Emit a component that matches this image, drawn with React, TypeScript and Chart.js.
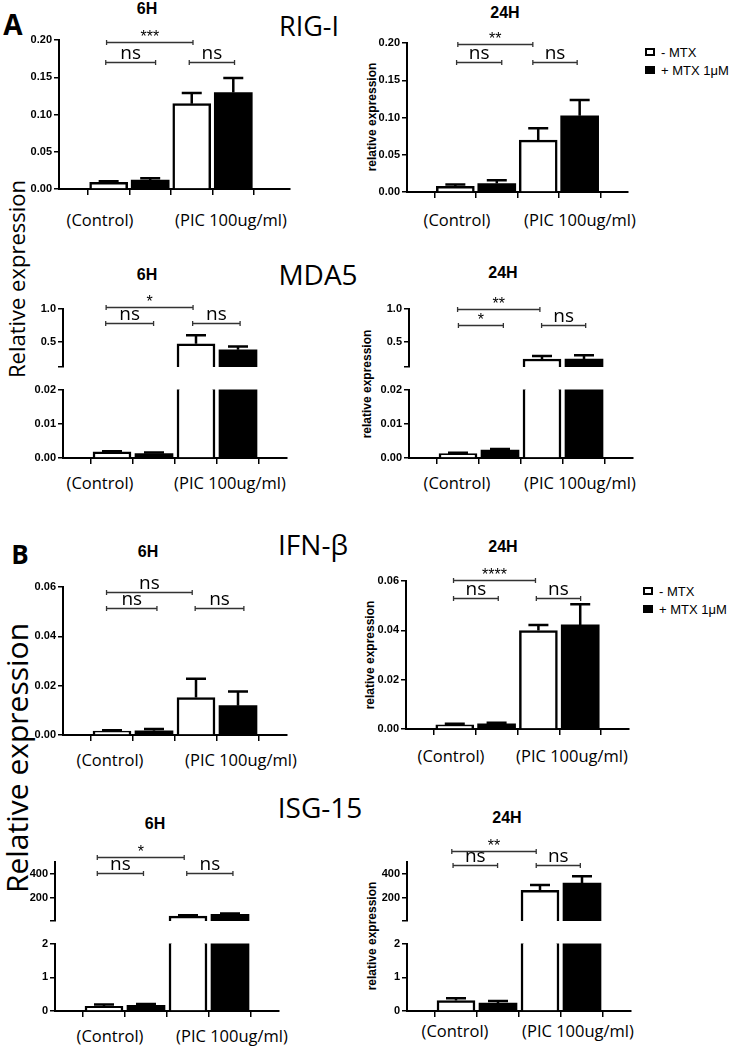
import React, { useEffect, useRef } from 'react';
import { Chart, registerables } from 'chart.js';

Chart.register(...registerables);

// ---------------- data ----------------
const GROUPS = ['(Control)', '(PIC 100ug/ml)'];
const SERIES = ['- MTX', '+ MTX 1μM'];
const BAR_POS = [0, 1, 2, 3]; // Control -MTX, Control +MTX, PIC -MTX, PIC +MTX

const RIGI_6H = [0.009, 0.012, 0.1145, 0.1295];
const RIGI_6H_ERR = [0.0015, 0.0025, 0.0145, 0.0195];
const RIGI_24H = [0.0077, 0.0113, 0.0697, 0.1024];
const RIGI_24H_ERR = [0.0025, 0.0045, 0.016, 0.021];
const MDA5_6H = [0.0018, 0.0013, 0.47, 0.38];
const MDA5_6H_ERR = [0.0002, 0.0003, 0.13, 0.05];
const MDA5_24H = [0.0013, 0.0023, 0.24, 0.24];
const MDA5_24H_ERR = [0.0002, 0.0003, 0.044, 0.057];
const IFNB_6H = [0.0016, 0.0017, 0.0152, 0.0119];
const IFNB_6H_ERR = [0.0003, 0.0007, 0.0076, 0.0057];
const IFNB_24H = [0.0017, 0.0021, 0.0399, 0.0422];
const IFNB_24H_ERR = [0.0004, 0.0004, 0.0023, 0.0084];
const ISG15_6H = [0.14, 0.17, 48, 62];
const ISG15_6H_ERR = [0.05, 0.04, 8, 8];
const ISG15_24H = [0.31, 0.235, 264, 324];
const ISG15_24H_ERR = [0.07, 0.06, 43, 57];

const RIGI_TICKS = [0, 0.05, 0.1, 0.15, 0.2];
const MDA5_LOW_TICKS = [0, 0.01, 0.02];
const MDA5_HIGH_TICKS = [0.5, 1.0];
const IFNB_TICKS = [0, 0.02, 0.04, 0.06];
const ISG15_LOW_TICKS = [0, 1, 2];
const ISG15_HIGH_TICKS = [200, 400];

const RIGI_6H_SIG = ['***', 'ns', 'ns'];
const RIGI_24H_SIG = ['**', 'ns', 'ns'];
const MDA5_6H_SIG = ['*', 'ns', 'ns'];
const MDA5_24H_SIG = ['**', '*', 'ns'];
const IFNB_6H_SIG = ['ns', 'ns', 'ns'];
const IFNB_24H_SIG = ['****', 'ns', 'ns'];
const ISG15_6H_SIG = ['*', 'ns', 'ns'];
const ISG15_24H_SIG = ['**', 'ns', 'ns'];

// ---------------- layout ----------------
type Seg = { min: number; max: number; ticks: number[]; top: number; bot: number; digits: number; blankMin?: boolean };
type Panel = {
  values: number[]; errors: number[]; sig: string[];
  axisX: number; xEnd: number; xMax: number;
  segs: Seg[]; brackets: number[][];
};

const MDA5_UP = { min: 0.118, max: 1.0, ticks: [0.118, ...MDA5_HIGH_TICKS], top: 309, bot: 377, digits: 1, blankMin: true };
const MDA5_LO = { min: 0, max: 0.02, ticks: MDA5_LOW_TICKS, top: 389, bot: 458, digits: 2 };
const ISG_UP = { min: 7, max: 500, ticks: [7, ...ISG15_HIGH_TICKS], top: 862, bot: 931, digits: 0, blankMin: true };
const ISG_LO = { min: 0, max: 2, ticks: ISG15_LOW_TICKS, top: 943, bot: 1011, digits: 0 };

const PANELS: Panel[] = [
  { values: RIGI_6H, errors: RIGI_6H_ERR, sig: RIGI_6H_SIG, axisX: 59, xEnd: 290, xMax: 3.67,
    segs: [{ min: 0, max: 0.2, ticks: RIGI_TICKS, top: 40, bot: 189, digits: 2 }],
    brackets: [[-0.05, 2.03, 0.197], [-0.07, 1.13, 0.1705], [1.94, 3.03, 0.1705]] },
  { values: RIGI_24H, errors: RIGI_24H_ERR, sig: RIGI_24H_SIG, axisX: 407, xEnd: 628, xMax: 3.5,
    segs: [{ min: 0, max: 0.2, ticks: RIGI_TICKS, top: 43, bot: 192, digits: 2 }],
    brackets: [[0.06, 1.87, 0.199], [0.03, 1.12, 0.175], [1.87, 2.94, 0.175]] },
  { values: MDA5_6H, errors: MDA5_6H_ERR, sig: MDA5_6H_SIG, axisX: 63, xEnd: 287, xMax: 3.5,
    segs: [MDA5_UP, MDA5_LO],
    brackets: [[-0.14, 1.93, 1.026], [-0.15, 0.99, 0.78], [1.92, 3.05, 0.78]] },
  { values: MDA5_24H, errors: MDA5_24H_ERR, sig: MDA5_24H_SIG, axisX: 409, xEnd: 633, xMax: 3.5,
    segs: [MDA5_UP, MDA5_LO],
    brackets: [[-0.01, 1.95, 1.0], [0.01, 1.08, 0.753], [1.99, 3.04, 0.753]] },
  { values: IFNB_6H, errors: IFNB_6H_ERR, sig: IFNB_6H_SIG, axisX: 63, xEnd: 287, xMax: 3.5,
    segs: [{ min: 0, max: 0.06, ticks: IFNB_TICKS, top: 587, bot: 735, digits: 2 }],
    brackets: [[-0.13, 1.91, 0.0578], [-0.13, 1.07, 0.0515], [1.98, 3.14, 0.0515]] },
  { values: IFNB_24H, errors: IFNB_24H_ERR, sig: IFNB_24H_SIG, axisX: 406, xEnd: 629, xMax: 3.5,
    segs: [{ min: 0, max: 0.06, ticks: IFNB_TICKS, top: 581, bot: 729, digits: 2 }],
    brackets: [[-0.03, 1.93, 0.0604], [-0.03, 1.04, 0.0532], [1.95, 3.01, 0.0532]] },
  { values: ISG15_6H, errors: ISG15_6H_ERR, sig: ISG15_6H_SIG, axisX: 55, xEnd: 279, xMax: 3.5,
    segs: [ISG_UP, ISG_LO],
    brackets: [[-0.16, 1.91, 538], [-0.16, 0.94, 412], [1.97, 3.07, 412]] },
  { values: ISG15_24H, errors: ISG15_24H_ERR, sig: ISG15_24H_SIG, axisX: 407, xEnd: 631, xMax: 3.5,
    segs: [ISG_UP, ISG_LO],
    brackets: [[-0.1, 1.91, 591], [-0.07, 0.99, 476], [1.91, 2.96, 476]] },
];

type Txt = { t: string; x: number; y: number; size: number; weight?: number; fam?: string; rot?: number };
const OS = '"Open Sans", sans-serif';
const LS = '"Liberation Sans", Arial, sans-serif';

const TITLES: Txt[] = [
  { t: 'A', x: 13, y: 24, size: 28, weight: 700, fam: OS },
  { t: 'B', x: 20, y: 554, size: 26, weight: 700, fam: OS },
  { t: 'RIG-I', x: 309, y: 25, size: 27, fam: OS },
  { t: 'MDA5', x: 318, y: 274, size: 28, fam: OS },
  { t: 'IFN-β', x: 313, y: 544, size: 28, fam: OS },
  { t: 'ISG-15', x: 320, y: 807, size: 28, fam: OS },
  { t: 'Relative expression', x: 16, y: 279, size: 22, fam: OS, rot: -90 },
  { t: 'Relative expression', x: 17, y: 758, size: 30, fam: OS, rot: -90 },
  { t: '6H', x: 147, y: 9, size: 16, weight: 700, fam: LS },
  { t: '24H', x: 505, y: 13, size: 16, weight: 700, fam: LS },
  { t: '6H', x: 147, y: 275, size: 16, weight: 700, fam: LS },
  { t: '24H', x: 503, y: 273, size: 16, weight: 700, fam: LS },
  { t: '6H', x: 148, y: 552, size: 16, weight: 700, fam: LS },
  { t: '24H', x: 503, y: 547, size: 16, weight: 700, fam: LS },
  { t: '6H', x: 155, y: 824, size: 16, weight: 700, fam: LS },
  { t: '24H', x: 507, y: 818, size: 16, weight: 700, fam: LS },
  { t: 'relative expression', x: 372, y: 117, size: 12, weight: 700, fam: LS, rot: -90 },
  { t: 'relative expression', x: 367, y: 384, size: 12, weight: 700, fam: LS, rot: -90 },
  { t: 'relative expression', x: 370, y: 655, size: 12, weight: 700, fam: LS, rot: -90 },
  { t: 'relative expression', x: 372, y: 936, size: 12, weight: 700, fam: LS, rot: -90 },
];

const GROUP_LABEL_POS = [
  [[100, 220], [231, 220]],
  [[457, 220], [580, 220]],
  [[100, 483], [230, 483]],
  [[457, 483], [580, 483]],
  [[110, 760], [241, 760]],
  [[451, 756], [572, 756]],
  [[110, 1036], [232, 1036]],
  [[455, 1031], [578, 1031]],
];

const LEGENDS = [
  { x: 645, y: 48 },
  { x: 643, y: 587 },
];

const YW = 50, PR = 8, XH = 10;

// ---------------- charts ----------------
function marksPlugin(p: Panel, s: Seg, withBrackets: boolean) {
  return {
    id: 'marks',
    afterDatasetsDraw(chart: any) {
      const { ctx, chartArea: a } = chart;
      const xs = chart.scales.x, ys = chart.scales.y;
      ctx.save();
      ctx.beginPath();
      ctx.rect(a.left, a.top - 3, a.right - a.left, a.bottom - a.top + 3);
      ctx.clip();
      ctx.strokeStyle = '#000';
      ctx.lineWidth = 2.5;
      p.values.forEach((v, i) => {
        if (v < s.min || v > s.max) return;
        const px = xs.getPixelForValue(BAR_POS[i]);
        const y0 = ys.getPixelForValue(v);
        const y1 = ys.getPixelForValue(v + p.errors[i]);
        ctx.beginPath();
        ctx.moveTo(px, y0);
        ctx.lineTo(px, y1);
        ctx.moveTo(px - 10, y1);
        ctx.lineTo(px + 10, y1);
        ctx.stroke();
      });
      ctx.restore();
      if (!withBrackets) return;
      ctx.save();
      ctx.strokeStyle = '#333';
      ctx.lineWidth = 1.3;
      ctx.fillStyle = '#000';
      ctx.textAlign = 'center';
      ctx.textBaseline = 'alphabetic';
      p.brackets.forEach((b, j) => {
        const x1 = xs.getPixelForValue(b[0]);
        const x2 = xs.getPixelForValue(b[1]);
        const yy = Math.round(ys.getPixelForValue(b[2])) + 0.5;
        ctx.beginPath();
        ctx.moveTo(x1, yy); ctx.lineTo(x2, yy);
        ctx.moveTo(x1, yy - 2.5); ctx.lineTo(x1, yy + 2.5);
        ctx.moveTo(x2, yy - 2.5); ctx.lineTo(x2, yy + 2.5);
        ctx.stroke();
        const lab = p.sig[j];
        const star = lab.startsWith('*');
        ctx.font = star ? '16px "Liberation Sans"' : '19px "Open Sans"';
        ctx.fillText(lab, (x1 + x2) / 2, yy - (star ? 1 : 3.5));
      });
      ctx.restore();
    },
  };
}

function SubChart({ p, s, first, last }: { p: Panel; s: Seg; first: boolean; last: boolean }) {
  const ref = useRef<HTMLCanvasElement>(null);
  const PT = first ? 46 : 8;
  const ax = Math.round(p.axisX), xe = Math.round(p.xEnd), t = Math.round(s.top), b = Math.round(s.bot);
  const left = ax - YW, top = t - PT, w = YW + (xe - ax) + PR, h = PT + (b - t) + XH;
  useEffect(() => {
    const d0 = BAR_POS.filter((i) => i % 2 === 0).map((i) => ({ x: i, y: p.values[i] }));
    const d1 = BAR_POS.filter((i) => i % 2 === 1).map((i) => ({ x: i, y: p.values[i] }));
    const chart = new Chart(ref.current as HTMLCanvasElement, {
      type: 'bar',
      data: {
        datasets: [
          { label: SERIES[0], data: d0 as any, backgroundColor: '#fff', borderColor: '#000', borderWidth: 2.5, clip: 0 as any },
          { label: SERIES[1], data: d1 as any, backgroundColor: '#000', borderColor: '#000', borderWidth: 0, clip: 0 as any },
        ],
      },
      options: {
        responsive: false,
        animation: false,
        devicePixelRatio: 1,
        layout: { padding: { top: PT, right: PR, left: 0, bottom: last ? 0 : XH } },
        datasets: { bar: { grouped: false, barThickness: 38 } as any },
        plugins: { legend: { display: false }, tooltip: { enabled: false } },
        scales: {
          x: {
            type: 'linear', min: -0.5, max: p.xMax, display: last,
            afterBuildTicks: (sc: any) => { sc.ticks = BAR_POS.map((v) => ({ value: v })); },
            afterFit: (sc: any) => { sc.height = XH; },
            ticks: { display: false },
            grid: { drawOnChartArea: false, drawTicks: true, tickLength: 6, color: '#000', lineWidth: 1.5 },
            border: { display: true, color: '#000', width: 2 },
          },
          y: {
            type: 'linear', min: s.min, max: s.max,
            afterBuildTicks: (sc: any) => { sc.ticks = s.ticks.map((v) => ({ value: v })); },
            afterFit: (sc: any) => { sc.width = YW; },
            ticks: {
              callback: (v: any) => (s.blankMin && v === s.min ? '' : Number(v).toFixed(s.digits)),
              font: { family: 'Liberation Sans', weight: 'bold', size: 11 },
              color: '#000', padding: 2,
            },
            grid: { drawOnChartArea: false, drawTicks: true, tickLength: 5, color: '#000', lineWidth: 1.5 },
            border: { display: true, color: '#000', width: 2 },
          },
        },
      } as any,
      plugins: [marksPlugin(p, s, first)],
    });
    return () => chart.destroy();
  }, []);
  return <canvas ref={ref} width={w} height={h} style={{ position: 'absolute', left, top, width: w, height: h }} />;
}

function Label({ t, x, y, size, weight = 400, fam = OS, rot = 0 }: Txt) {
  return (
    <div style={{
      position: 'absolute', left: x, top: y, transform: `translate(-50%, -50%) rotate(${rot}deg)`,
      fontSize: size, fontWeight: weight, fontFamily: fam, lineHeight: 1, whiteSpace: 'nowrap', color: '#000',
    }}>{t}</div>
  );
}

function Legend({ x, y }: { x: number; y: number }) {
  const txt = { position: 'absolute' as const, left: x + 16, transform: 'translateY(-50%)', fontSize: 13, fontFamily: LS, lineHeight: 1, whiteSpace: 'nowrap' as const };
  return (
    <div>
      <div style={{ position: 'absolute', left: x, top: y, width: 10, height: 8, boxSizing: 'border-box', border: '2px solid #000', background: '#fff' }} />
      <div style={{ ...txt, top: y + 4 }}>{SERIES[0]}</div>
      <div style={{ position: 'absolute', left: x, top: y + 18, width: 10, height: 8, background: '#000' }} />
      <div style={{ ...txt, top: y + 22 }}>{SERIES[1]}</div>
    </div>
  );
}

export default function App() {
  return (
    <div style={{ position: 'absolute', left: 0, top: 0, width: 733, height: 1046, background: '#fff', overflow: 'hidden' }}>
      {TITLES.map((l, i) => <Label key={'t' + i} {...l} />)}
      {GROUP_LABEL_POS.map((pos, i) => pos.map((q, j) => (
        <Label key={`g${i}-${j}`} t={GROUPS[j]} x={q[0]} y={q[1]} size={16.5} fam={OS} />
      )))}
      {LEGENDS.map((l, i) => <Legend key={'l' + i} x={l.x} y={l.y} />)}
      {PANELS.map((p, i) => p.segs.map((s, k) => (
        <SubChart key={`c${i}-${k}`} p={p} s={s} first={k === 0} last={k === p.segs.length - 1} />
      )))}
    </div>
  );
}
